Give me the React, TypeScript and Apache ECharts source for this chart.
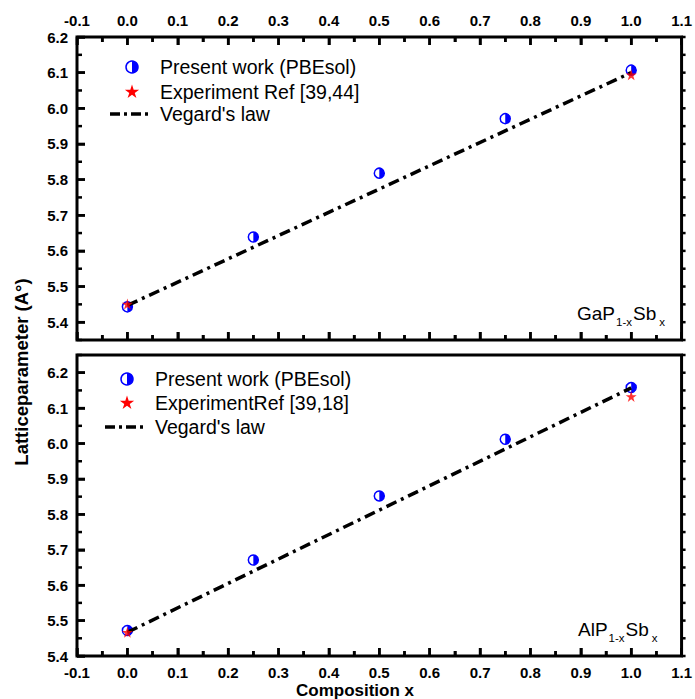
import React, { useEffect, useRef } from "react";
import * as echarts from "echarts";

// ---- data ----
const composition = [0, 0.25, 0.5, 0.75, 1.0];
const gapPresent = [5.443, 5.639, 5.818, 5.971, 6.107];
const gapExpX = [0, 1];
const gapExp = [5.451, 6.094];
const gapVegardX = [0, 1];
const gapVegard = [5.447, 6.1];

const alpPresent = [5.472, 5.671, 5.852, 6.012, 6.158];
const alpExpX = [0, 1];
const alpExp = [5.467, 6.133];
const alpVegardX = [0, 1];
const alpVegard = [5.467, 6.157];

// ---- tick values ----
const xMajorTicks = [-0.1, 0, 0.1, 0.2, 0.3, 0.4, 0.5, 0.6, 0.7, 0.8, 0.9, 1.0, 1.1];
const xMinorTicks = [-0.05, 0.05, 0.15, 0.25, 0.35, 0.45, 0.55, 0.65, 0.75, 0.85, 0.95, 1.05];
const yMajorTicks = [5.4, 5.5, 5.6, 5.7, 5.8, 5.9, 6.0, 6.1, 6.2];
const topMinorTicks = [5.35, 5.45, 5.55, 5.65, 5.75, 5.85, 5.95, 6.05, 6.15];
const botMinorTicks = [5.45, 5.55, 5.65, 5.75, 5.85, 5.95, 6.05, 6.15, 6.25];

const X_MIN = -0.1;
const X_MAX = 1.1;
const TOP_RANGE = [5.35, 6.2];
const BOT_RANGE = [5.4, 6.25];

const GRID_TOP = { left: 77, top: 37, width: 608, height: 303 };
const GRID_BOT = { left: 77, top: 355, width: 608, height: 301 };

const FONT = "'Liberation Sans', Arial, Helvetica, sans-serif";
const BLUE = "#0000ff";
const RED = "#ff0000";
const STAR = "path://M50,2 L61.8,38.2 L99.5,38.2 L69,60.5 L80.6,96.6 L50,74.3 L19.4,96.6 L31,60.5 L0.5,38.2 L38.2,38.2 Z";

let measureCtx: CanvasRenderingContext2D | null = null;
function textWidth(text: string, font: string) {
  if (!measureCtx) measureCtx = document.createElement("canvas").getContext("2d");
  if (!measureCtx) return text.length * 9;
  measureCtx.font = font;
  return measureCtx.measureText(text).width;
}

function starPoints(cx: number, cy: number, R: number) {
  const pts: number[][] = [];
  const r = R * 0.382;
  for (let i = 0; i < 10; i++) {
    const a = -Math.PI / 2 + (i * Math.PI) / 5;
    const rr = i % 2 === 0 ? R : r;
    pts.push([cx + rr * Math.cos(a), cy + rr * Math.sin(a)]);
  }
  return pts;
}

function halfCircle(cx: number, cy: number, r: number) {
  return [
    { type: "circle", shape: { cx, cy, r }, style: { fill: "#fff", stroke: BLUE, lineWidth: 1.5 } },
    { type: "sector", shape: { cx, cy, r, r0: 0, startAngle: -Math.PI / 2, endAngle: Math.PI / 2, clockwise: true }, style: { fill: BLUE } },
  ];
}

const fmt = (v: number) => (Math.round(v * 10) / 10).toFixed(1);

const LABEL = { color: "#000", fontFamily: FONT, fontSize: 15, fontWeight: "bold", margin: 9, formatter: fmt };

function xAxis(grid: number, pos: "top" | "bottom", labels: boolean) {
  return {
    gridIndex: grid,
    type: "value",
    position: pos,
    min: X_MIN,
    max: X_MAX,
    interval: 0.1,
    axisLine: { show: false, onZero: false },
    axisTick: { show: true, inside: true, length: 8, lineStyle: { color: "#000", width: 2.5 } },
    minorTick: { show: true, splitNumber: 2, length: 5, lineStyle: { color: "#000", width: 2.5 } },
    axisLabel: { ...LABEL, show: labels },
    splitLine: { show: false },
    minorSplitLine: { show: false },
  };
}

function yAxis(grid: number, range: number[]) {
  return {
    gridIndex: grid,
    type: "value",
    position: "left",
    min: range[0],
    max: range[1],
    axisLine: { show: false, onZero: false },
    axisTick: { show: true, inside: true, length: 8, customValues: yMajorTicks, lineStyle: { color: "#000", width: 2.5 } },
    axisLabel: { ...LABEL, customValues: yMajorTicks },
    splitLine: { show: false },
  };
}

type Conv = (p: number[]) => number[];

function makeConv(chart: any, gridIndex: number, g: any, range: number[]): Conv {
  return (p) => {
    let r: any = null;
    try {
      r = chart.convertToPixel({ gridIndex }, p);
    } catch (e) {
      r = null;
    }
    if (!r || !isFinite(r[0]) || !isFinite(r[1])) {
      r = [
        g.left + ((p[0] - X_MIN) / (X_MAX - X_MIN)) * g.width,
        g.top + g.height - ((p[1] - range[0]) / (range[1] - range[0])) * g.height,
      ];
    }
    return r;
  };
}

function tickSegments(conv: Conv, range: number[], minors: number[], topTicks: boolean) {
  const lt = conv([X_MIN, range[1]]);
  const rb = conv([X_MAX, range[0]]);
  const segs: any[] = [];
  const addX = (v: number, L: number) => {
    const px = conv([v, range[0]])[0];
    segs.push({ x1: px, y1: rb[1], x2: px, y2: rb[1] - L });
    if (topTicks) segs.push({ x1: px, y1: lt[1], x2: px, y2: lt[1] + L });
  };
  const addY = (v: number, L: number) => {
    const py = conv([X_MIN, v])[1];
    segs.push({ x1: lt[0], y1: py, x2: lt[0] + L, y2: py });
    segs.push({ x1: rb[0], y1: py, x2: rb[0] + 4, y2: py });
  };
  xMajorTicks.forEach((v) => addX(v, 8));
  xMinorTicks.forEach((v) => addX(v, 5));
  yMajorTicks.forEach((v) => addY(v, 8));
  minors.forEach((v) => addY(v, 5));
  return segs.map((s) => ({
    type: "line",
    z: 100,
    zlevel: 1,
    silent: true,
    shape: s,
    style: { stroke: "#000", lineWidth: 2.5 },
  }));
}

function panelSeries(
  idx: number,
  present: number[],
  expX: number[],
  exp: number[],
  vegX: number[],
  veg: number[]
) {
  return [
    {
      type: "custom",
      xAxisIndex: idx,
      yAxisIndex: idx,
      z: 2,
      data: composition.map((x, i) => [x, present[i]]),
      renderItem: (_p: any, api: any) => {
        const c = api.coord([api.value(0), api.value(1)]);
        return { type: "group", children: halfCircle(c[0], c[1], 5) };
      },
    },
    {
      type: "line",
      xAxisIndex: idx,
      yAxisIndex: idx,
      z: 3,
      symbol: "none",
      data: vegX.map((x, i) => [x, veg[i]]),
      lineStyle: { color: "#000", width: 3.5, type: [11, 5, 3, 5], cap: "butt" },
    },
    {
      type: "scatter",
      xAxisIndex: idx,
      yAxisIndex: idx,
      z: 4,
      symbol: STAR,
      symbolSize: 11,
      itemStyle: { color: RED },
      data: expX.map((x, i) => [x, exp[i]]),
    },
  ];
}

function legend(mx: number, tx: number, y0: number, y1: number, y2: number, lx0: number, lx1: number, expLabel: string) {
  const txt = (y: number, t: string) => ({
    type: "text",
    x: tx,
    y,
    style: { text: t, fill: "#000", font: `19.5px ${FONT}`, verticalAlign: "middle", align: "left" },
  });
  return [
    ...halfCircle(mx, y0, 6),
    { type: "polygon", shape: { points: starPoints(mx, y1, 7.5) }, style: { fill: RED } },
    { type: "line", shape: { x1: lx0, y1: y2, x2: lx1, y2: y2 }, style: { stroke: "#000", lineWidth: 3.5, lineDash: [10, 4, 3, 4] } },
    txt(y0, "Present work (PBEsol)"),
    txt(y1, expLabel),
    txt(y2, "Vegard's law"),
  ];
}

function compoundLabel(x: number, y: number, a: string, b: string) {
  const big = `19px ${FONT}`;
  const small = `11.5px ${FONT}`;
  const w1 = textWidth(a, big);
  const w2 = textWidth("1-x", small);
  const w3 = textWidth(b, big);
  const x1 = x + w1 + 1;
  const x2 = x1 + w2 + 1;
  const x3 = x2 + w3 + 3;
  return [
    { type: "text", x, y, style: { text: a, font: big, fill: "#000", verticalAlign: "middle" } },
    { type: "text", x: x1, y: y + 9, style: { text: "1-x", font: small, fill: "#000", verticalAlign: "middle" } },
    { type: "text", x: x2, y, style: { text: b, font: big, fill: "#000", verticalAlign: "middle" } },
    { type: "text", x: x3, y: y + 9, style: { text: "x", font: small, fill: "#000", verticalAlign: "middle" } },
  ];
}

const gridBase = { show: true, borderColor: "#000", borderWidth: 3 };

export default function App() {
  const ref = useRef<HTMLDivElement>(null);
  useEffect(() => {
    if (!ref.current) return;
    document.body.style.margin = "0";
    const chart = echarts.init(ref.current, undefined, { renderer: "svg" });
    const baseGraphic: any[] = [
      ...legend(132, 160, 67, 92, 114, 110, 149, "Experiment Ref [39,44]"),
      ...legend(127, 155, 379, 403, 427, 105, 143, "ExperimentRef [39,18]"),
      ...compoundLabel(577, 313, "GaP", "Sb"),
      ...compoundLabel(578, 629, "AlP", "Sb"),
      {
        type: "text",
        x: 21,
        y: 372,
        rotation: Math.PI / 2,
        style: { text: "Latticeparameter (A°)", font: `bold 18.5px ${FONT}`, fill: "#000", align: "center", verticalAlign: "middle" },
      },
      {
        type: "text",
        x: 355,
        y: 690,
        style: { text: "Composition x", font: `bold 17px ${FONT}`, fill: "#000", align: "center", verticalAlign: "middle" },
      },
    ];
    const option: any = {
      animation: false,
      grid: [
        { ...gridBase, ...GRID_TOP },
        { ...gridBase, ...GRID_BOT },
      ],
      xAxis: [xAxis(0, "bottom", false), xAxis(1, "bottom", true), xAxis(0, "top", true)],
      yAxis: [yAxis(0, TOP_RANGE), yAxis(1, BOT_RANGE)],
      series: [
        ...panelSeries(0, gapPresent, gapExpX, gapExp, gapVegardX, gapVegard),
        ...panelSeries(1, alpPresent, alpExpX, alpExp, alpVegardX, alpVegard),
      ],
      graphic: baseGraphic,
    };
    chart.setOption(option);

    try {
      const conv0 = makeConv(chart, 0, GRID_TOP, TOP_RANGE);
      const conv1 = makeConv(chart, 1, GRID_BOT, BOT_RANGE);
      const ticks = [
        ...tickSegments(conv0, TOP_RANGE, topMinorTicks, true),
        ...tickSegments(conv1, BOT_RANGE, botMinorTicks, false),
      ];
      chart.setOption({ graphic: [...baseGraphic, ...ticks] }, { replaceMerge: ["graphic"] });
    } catch (e) {
      // keep the base chart if tick overlay fails
    }
    return () => chart.dispose();
  }, []);
  return <div ref={ref} style={{ width: 695, height: 699 }} />;
}
